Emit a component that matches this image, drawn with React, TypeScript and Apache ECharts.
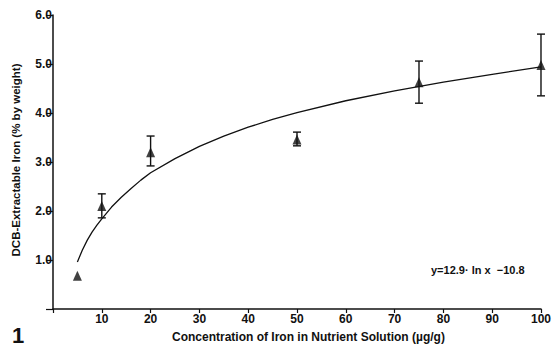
import React, { useEffect, useRef } from "react";
import * as echarts from "echarts";

const concentrations = [5, 10, 20, 50, 75, 100];
const meanIron = [0.68, 2.1, 3.2, 3.46, 4.63, 4.98];
const lowerIron = [0.68, 1.86, 2.92, 3.33, 4.2, 4.35];
const upperIron = [0.68, 2.35, 3.53, 3.61, 5.06, 5.61];
const hasErrorBar = [false, true, true, true, true, true];

const fitX = [5, 6, 7, 8, 9, 10, 12, 14, 16, 18, 20, 25, 30, 35, 40, 45, 50, 60, 70, 80, 90, 100];
const fitY = [0.96, 1.2, 1.4, 1.57, 1.71, 1.84, 2.08, 2.28, 2.46, 2.63, 2.78, 3.07, 3.32, 3.53, 3.71, 3.87, 4.01, 4.25, 4.45, 4.63, 4.79, 4.94];

const xAxisName = "Concentration of Iron in Nutrient Solution (\u00b5g/g)";
const yAxisName = "DCB-Extractable Iron (% by weight)";
const equationText = "y=12.9\u00b7 ln x  \u221210.8";
const figureNumber = "1";

const FONT = "'Liberation Sans', Arial, sans-serif";

export default function App() {
  const ref = useRef<HTMLDivElement>(null);
  useEffect(() => {
    if (!ref.current) return;
    const chart = echarts.init(ref.current, undefined, { renderer: "svg" });
    const points = concentrations.map((c, i) => [c, meanIron[i]]);
    const bars = concentrations
      .map((c, i) => (hasErrorBar[i] ? [c, lowerIron[i], upperIron[i]] : null))
      .filter((d) => d !== null);
    const fit = fitX.map((x, i) => [x, fitY[i]]);
    chart.setOption({
      animation: false,
      backgroundColor: "#fff",
      grid: { left: 53, right: 11, top: 15, bottom: 37 },
      xAxis: {
        type: "value",
        min: 0,
        max: 100,
        interval: 10,
        splitLine: { show: false },
        axisLine: { lineStyle: { color: "#111", width: 1.5 } },
        axisTick: { length: 4, lineStyle: { color: "#111", width: 1.2 } },
        axisLabel: {
          color: "#111",
          fontFamily: FONT,
          fontWeight: "bold",
          fontSize: 12,
          margin: 4,
          formatter: (v: number) => (v === 0 ? "" : String(v)),
        },
      },
      yAxis: {
        type: "value",
        min: 0,
        max: 6,
        interval: 1,
        splitLine: { show: false },
        axisLine: { show: true, lineStyle: { color: "#111", width: 1.5 } },
        axisTick: { show: true, length: 7, lineStyle: { color: "#111", width: 1.2 } },
        axisLabel: {
          color: "#111",
          fontFamily: FONT,
          fontWeight: "bold",
          fontSize: 12,
          margin: 1,
          formatter: (v: number) => (v === 0 ? "" : v.toFixed(1)),
        },
      },
      graphic: [
        {
          type: "text",
          left: 172,
          top: 331,
          style: { text: xAxisName, fontFamily: FONT, fontWeight: "bold", fontSize: 12, fill: "#111" },
        },
        {
          type: "text",
          x: 16,
          y: 160,
          rotation: Math.PI / 2,
          style: {
            text: yAxisName,
            fontFamily: FONT,
            fontWeight: "bold",
            fontSize: 11.5,
            fill: "#111",
            align: "center",
            verticalAlign: "middle",
          },
        },
        {
          type: "text",
          left: 431,
          top: 264,
          style: { text: equationText, fontFamily: FONT, fontWeight: "bold", fontSize: 11, fill: "#111" },
        },
        {
          type: "text",
          left: 12,
          top: 324,
          style: { text: figureNumber, fontFamily: FONT, fontWeight: "bold", fontSize: 22, fill: "#111" },
        },
      ],
      series: [
        {
          type: "line",
          data: fit,
          smooth: false,
          showSymbol: false,
          lineStyle: { color: "#111", width: 1.3 },
          silent: true,
        },
        {
          type: "custom",
          data: bars,
          renderItem: (params: any, api: any) => {
            const x = api.value(0);
            const lo = api.coord([x, api.value(1)]);
            const hi = api.coord([x, api.value(2)]);
            const w = 4;
            const st = { stroke: "#111", lineWidth: 1.4 };
            return {
              type: "group",
              children: [
                { type: "line", shape: { x1: lo[0], y1: lo[1], x2: hi[0], y2: hi[1] }, style: st },
                { type: "line", shape: { x1: lo[0] - w, y1: lo[1], x2: lo[0] + w, y2: lo[1] }, style: st },
                { type: "line", shape: { x1: hi[0] - w, y1: hi[1], x2: hi[0] + w, y2: hi[1] }, style: st },
              ],
            };
          },
          silent: true,
        },
        {
          type: "scatter",
          data: points,
          symbol: "triangle",
          symbolSize: [9, 10],
          itemStyle: { color: "#111" },
        },
      ],
    });
    return () => chart.dispose();
  }, []);
  return <div ref={ref} style={{ position: "fixed", left: 0, top: 0, width: 554, height: 346 }} />;
}
